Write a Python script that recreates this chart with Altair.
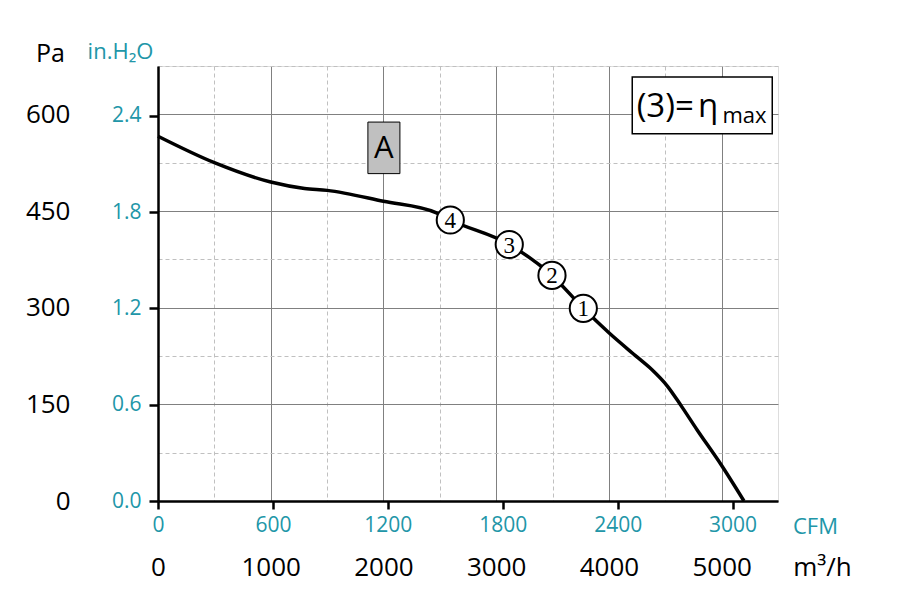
import altair as alt
import pandas as pd

# ---- data ----
flow_m3h = [0, 500, 1000, 1300, 1500, 2000, 2470, 2593, 3116, 3495, 3773, 4000, 4246, 4380, 4520, 4640, 4780, 5000, 5198]
pressure_pa = [566, 525, 495, 485, 482, 465, 447, 436, 398, 350, 299, 261, 224, 204, 178, 148, 111, 55, 0]

op_m3h = [3773, 3495, 3116, 2593]
op_pa = [299, 350, 398, 436]
op_label = ["1", "2", "3", "4"]

m3h_ticks = [0, 500, 1000, 1500, 2000, 2500, 3000, 3500, 4000, 4500, 5000]
pa_ticks = [0, 75, 150, 225, 300, 375, 450, 525, 600, 675]
cfm_ticks = [0, 600, 1200, 1800, 2400, 3000]
inh2o_ticks = [0.0, 0.6, 1.2, 1.8, 2.4]

# annotation boxes (data units)
boxA_x = [1862, 2146]
boxA_y = [508, 588]
boxA_text = ["A"]
eta_box_x = [4207, 5449]
eta_box_y = [570, 658]
eta_parts = ["(3)=", "η"]
eta_parts_x = [4246, 4790]
eta_parts_y = [596, 596]
eta_sub_text = ["max"]
eta_sub_pos = [5399, 586]

X_MAX = 5500
Y_MAX = 675
M3H_PER_CFM = 1.69901
PA_PER_INH2O = 249.089

TEAL = "#2196a8"
FONT = "Open Sans"

curve_df = pd.DataFrame({"m3h": flow_m3h, "pa": pressure_pa})
op_df = pd.DataFrame({"m3h": op_m3h, "pa": op_pa, "label": op_label})
boxA_df = pd.DataFrame({"m3h": [boxA_x[0]], "m3h2": [boxA_x[1]], "pa": [boxA_y[0]], "pa2": [boxA_y[1]],
                        "cx": [(boxA_x[0] + boxA_x[1]) / 2], "cy": [(boxA_y[0] + boxA_y[1]) / 2], "t": boxA_text})
eta_df = pd.DataFrame({"m3h": [eta_box_x[0]], "m3h2": [eta_box_x[1]], "pa": [eta_box_y[0]], "pa2": [eta_box_y[1]]})
eta_main_df = pd.DataFrame({"m3h": eta_parts_x, "pa": eta_parts_y, "t": eta_parts})
eta_sub_df = pd.DataFrame({"m3h": [eta_sub_pos[0]], "pa": [eta_sub_pos[1]], "t": eta_sub_text})

xscale = alt.Scale(domain=[0, X_MAX], nice=False, zero=False)
yscale = alt.Scale(domain=[0, Y_MAX], nice=False, zero=False)

x_axis = alt.Axis(
    orient="bottom", values=m3h_ticks, format="d",
    labelExpr="datum.value % 1000 === 0 ? datum.label : ''",
    ticks=False, domain=False, labelPadding=66, labelBaseline="middle",
    labelFontSize=26, labelColor="black", labelFont=FONT, labelFlush=False, labelOverlap=False,
    grid=True,
    gridColor={"condition": {"test": "datum.value % 1000 !== 0", "value": "#c0c0c0"}, "value": "#808080"},
    gridDash={"condition": {"test": "datum.value % 1000 !== 0", "value": [4, 3]}, "value": []},
    gridWidth=1,
    title="m³/h", titleX=664, titleY=66, titleAlign="center", titleBaseline="middle",
    titleFontSize=26, titleColor="black", titleFontWeight="normal", titleFont=FONT,
)
y_axis = alt.Axis(
    orient="left", values=pa_ticks, format="d",
    labelExpr="datum.value % 150 === 0 ? datum.label : ''",
    ticks=False, domain=False, labelPadding=88, labelAlign="right", labelBaseline="middle",
    labelFontSize=26, labelColor="black", labelFont=FONT, labelFlush=False, labelOverlap=False,
    grid=True,
    gridColor={"condition": {"test": "datum.value % 150 !== 0", "value": "#c0c0c0"}, "value": "#808080"},
    gridDash={"condition": {"test": "datum.value % 150 !== 0", "value": [4, 3]}, "value": []},
    gridWidth=1,
    title="Pa", titleAngle=0, titleX=-108, titleY=-13, titleAlign="center", titleBaseline="middle",
    titleFontSize=25, titleColor="black", titleFontWeight="normal", titleFont=FONT,
)

X = alt.X("m3h:Q", scale=xscale, axis=x_axis)
Y = alt.Y("pa:Q", scale=yscale, axis=y_axis)

curve = alt.Chart(curve_df).mark_line(interpolate="monotone", color="black", strokeWidth=3.5).encode(x=X, y=Y)

rectA = alt.Chart(boxA_df).mark_rect(fill="#c0c0c0", stroke="black", strokeWidth=1).encode(
    x=X, x2="m3h2:Q", y=Y, y2="pa2:Q")
textA = alt.Chart(boxA_df).mark_text(font=FONT, fontSize=31, color="black", baseline="middle", align="center", dy=1).encode(
    x=alt.X("cx:Q", scale=xscale), y=alt.Y("cy:Q", scale=yscale), text="t:N")

eta_box = alt.Chart(eta_df).mark_rect(fill="white", stroke="black", strokeWidth=1.5).encode(
    x=X, x2="m3h2:Q", y=Y, y2="pa2:Q")
eta_main = alt.Chart(eta_main_df).mark_text(font=FONT, fontSize=33, color="black", baseline="alphabetic", align="left").encode(
    x=X, y=Y, text="t:N")
eta_sub = alt.Chart(eta_sub_df).mark_text(font=FONT, fontSize=22, color="black", baseline="alphabetic", align="right").encode(
    x=X, y=Y, text="t:N")

pts = alt.Chart(op_df).mark_point(shape="circle", filled=False, fill="white", fillOpacity=1, stroke="black",
                                  strokeWidth=2, size=740, opacity=1).encode(x=X, y=Y)
pt_labels = alt.Chart(op_df).mark_text(font="Liberation Serif", fontSize=23, color="black",
                                       baseline="middle", align="center", dy=1).encode(x=X, y=Y, text="label:N")

main = alt.layer(curve, rectA, textA, eta_box, eta_main, eta_sub, pts, pt_labels)

cfm_axis = alt.Axis(
    orient="bottom", values=cfm_ticks, format="d",
    ticks=True, tickSize=8, tickWidth=2.5, tickColor="black",
    domain=True, domainColor="black", domainWidth=2.5,
    labelPadding=16, labelBaseline="middle", labelFontSize=21, labelColor=TEAL, labelFont=FONT,
    labelFlush=False, labelOverlap=False, grid=False,
    title="CFM", titleX=657, titleY=25, titleAlign="center", titleBaseline="middle",
    titleFontSize=22, titleColor=TEAL, titleFontWeight="normal", titleFont=FONT,
)
inh2o_axis = alt.Axis(
    orient="left", values=inh2o_ticks, format=".1f",
    ticks=True, tickSize=9, tickWidth=2.5, tickColor="black",
    domain=True, domainColor="black", domainWidth=2.5,
    labelPadding=8, labelAlign="right", labelBaseline="middle", labelFontSize=21, labelColor=TEAL, labelFont=FONT,
    labelFlush=False, labelOverlap=False, grid=False,
    title="in.H₂O", titleAngle=0, titleX=-38, titleY=-15, titleAlign="center", titleBaseline="middle",
    titleFontSize=22, titleColor=TEAL, titleFontWeight="normal", titleFont=FONT,
)

secondary = alt.Chart(curve_df).transform_calculate(
    cfm=f"datum.m3h / {M3H_PER_CFM}", inh2o=f"datum.pa / {PA_PER_INH2O}"
).mark_line(opacity=0).encode(
    x=alt.X("cfm:Q", scale=alt.Scale(domain=[0, X_MAX / M3H_PER_CFM], nice=False, zero=False), axis=cfm_axis),
    y=alt.Y("inh2o:Q", scale=alt.Scale(domain=[0, Y_MAX / PA_PER_INH2O], nice=False, zero=False), axis=inh2o_axis),
)

chart = alt.layer(main, secondary).resolve_scale(x="independent", y="independent").properties(
    width=620, height=435,
    padding={"left": 150, "top": 58, "right": 100, "bottom": 85},
    autosize=alt.AutoSizeParams(type="none"),
).configure_view(stroke="black", strokeWidth=2).configure(background="white")

chart.save("out.html", embed_options={"renderer": "svg", "actions": False})
